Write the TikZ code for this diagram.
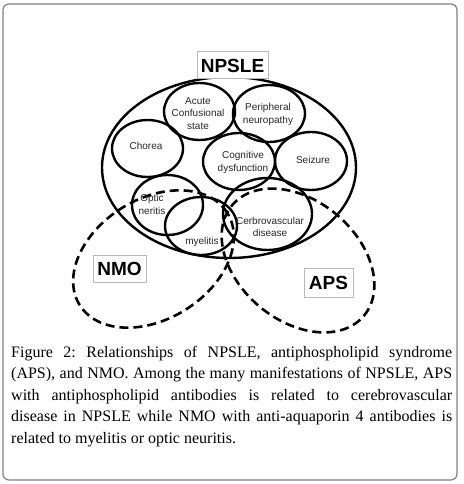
\documentclass[tikz,border=0pt]{standalone}
\usepackage{fontspec}
\setmainfont{Liberation Serif}
\newfontfamily\arialfont{Liberation Sans}
\usetikzlibrary{shapes.geometric}
\frenchspacing
\begin{document}
\begin{tikzpicture}[x=1pt,y=-1pt,
  solidell/.style={draw, ellipse, line width=2.4pt, inner sep=0pt},
  dashell/.style={draw, ellipse, line width=2.6pt, dash pattern=on 9pt off 5pt, inner sep=0pt},
  lbl/.style={font=\arialfont\fontsize{10}{12.5}\selectfont, align=center, text=black!85, inner sep=0pt},
  tagbox/.style={draw=gray!55, line width=1pt, fill=white, font=\arialfont\bfseries\fontsize{19}{22}\selectfont, inner sep=0pt},
  capline/.style={anchor=base west, inner sep=0pt, font=\fontsize{16}{21.5}\selectfont}]
\useasboundingbox (0,0) rectangle (463,484);
\draw[gray, line width=1.2pt, rounded corners=6pt] (3,4) rectangle (457,480);

% NPSLE big ellipse
\node[solidell, minimum width=254, minimum height=181] (npsle) at (229,167.5) {};

% manifestations
\node[solidell, minimum width=71, minimum height=57] (acs) at (199.5,111.5) {};
\node[solidell, minimum width=72, minimum height=57] (pn) at (269,113.5) {};
\node[solidell, minimum width=71, minimum height=57] (cho) at (147.5,148.5) {};
\node[solidell, minimum width=72, minimum height=57] (cog) at (239,161.5) {};
\node[solidell, minimum width=72, minimum height=58] (sei) at (311,161) {};
\node[solidell, minimum width=71, minimum height=60] (opt) at (167.5,205) {};
\node[solidell, minimum width=72, minimum height=58] (mye) at (201,226) {};
\node[solidell, minimum width=89, minimum height=72] (cer) at (267.5,214) {};

% labels
\node[lbl] (tacs) at (198,113.5) {Acute\\Confusional\\state};
\node[lbl] (tpn) at (268,114.5) {Peripheral\\neuropathy};
\node[lbl] (tcho) at (146,146) {Chorea};
\node[lbl] (tcog) at (243,162.5) {Cognitive\\dysfunction};
\node[lbl] (tsei) at (313,160) {Seizure};
\node[lbl] (topt) at (152,204.5) {Optic\\neritis};
\node[lbl] (tmye) at (202,242) {myelitis};
\node[lbl] (tcer) at (270,227) {Cerbrovascular\\disease};

% NMO and APS dashed ellipses
\node[dashell, minimum width=174, minimum height=120, rotate=32] (nmo) at (153.5,259) {};
\node[dashell, minimum width=172, minimum height=120, rotate=-40] (aps) at (298,260.5) {};

% tag boxes
\node[tagbox, minimum width=71, minimum height=27] (tnpsle) at (232.5,65.5) {NPSLE};
\node[tagbox, minimum width=53, minimum height=27] (tnmo) at (119.5,268.5) {NMO};
\node[tagbox, minimum width=49, minimum height=29] (taps) at (328.5,282.5) {APS};

% caption
\node[capline] (c1) at (11,357) {\makebox[441pt][s]{Figure 2: Relationships of NPSLE, antiphospholipid syndrome}};
\node[capline] (c2) at (11,378.5) {\makebox[441pt][s]{(APS), and NMO. Among the many manifestations of NPSLE, APS}};
\node[capline] (c3) at (11,400) {\makebox[441pt][s]{with antiphospholipid antibodies is related to cerebrovascular}};
\node[capline] (c4) at (11,421.5) {\makebox[441pt][s]{disease in NPSLE while NMO with anti-aquaporin 4 antibodies is}};
\node[capline] (c5) at (11,443) {related to myelitis or optic neuritis.};
\end{tikzpicture}
\end{document}
